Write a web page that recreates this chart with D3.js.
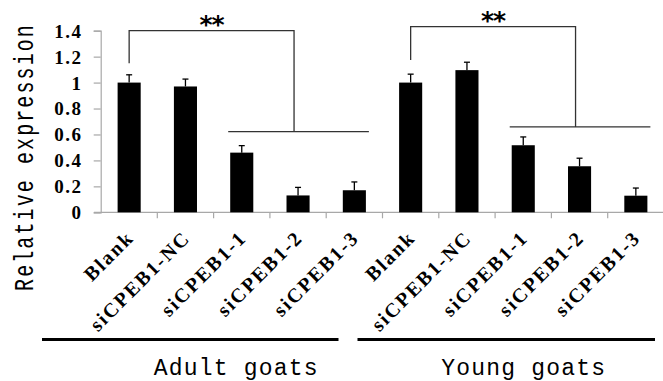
<!DOCTYPE html>
<html>
<head>
<meta charset="utf-8">
<script src="https://cdn.jsdelivr.net/npm/d3@7"></script>
<style>
  html, body { margin: 0; padding: 0; background: #fff; }
  svg { display: block; }
</style>
</head>
<body>
<svg id="chart" width="663" height="381"></svg>
<script>
// ---- data ----
const groups = ["Adult goats", "Young goats"];
const treatments = ["Blank", "siCPEB1-NC", "siCPEB1-1", "siCPEB1-2", "siCPEB1-3"];
const adultValues = [1.0, 0.97, 0.46, 0.13, 0.17];
const adultErrors = [0.06, 0.057, 0.054, 0.062, 0.064];
const youngValues = [1.0, 1.096, 0.517, 0.355, 0.128];
const youngErrors = [0.065, 0.061, 0.064, 0.062, 0.059];
const yTicks = [0, 0.2, 0.4, 0.6, 0.8, 1, 1.2, 1.4];
const sigLabel = "**";
const sigLow = [1.15, 1.175];   // bottom of left bracket leg
const sigTop = [1.4, 1.432];    // bracket top
const sigLine = [0.622, 0.658]; // horizontal line over siRNA bars

const valuesByGroup = [adultValues, youngValues];
const errorsByGroup = [adultErrors, youngErrors];
const data = [];
groups.forEach((g, gi) => treatments.forEach((t, ti) => {
  data.push({ key: g + "|" + t, group: g, label: t,
              value: valuesByGroup[gi][ti], err: errorsByGroup[gi][ti] });
}));

// ---- layout ----
const svg = d3.select("#chart");
const x = d3.scaleBand().domain(data.map(d => d.key))
  .range([101, 664]).paddingInner(0.59).paddingOuter(0.295);
const y = d3.scaleLinear().domain([0, 1.4]).range([212.3, 30.7]);
const bw = x.bandwidth();
const step = x.step();
const axisColor = "#a8a8a8";

// y axis
const yAxis = d3.axisLeft(y).tickValues(yTicks).tickSize(7).tickFormat(d3.format("~g"));
const gy = svg.append("g").attr("transform", "translate(100.7,0)").call(yAxis);
gy.select(".domain").attr("stroke", axisColor).attr("stroke-width", 1.2);
gy.selectAll(".tick line").attr("stroke", axisColor).attr("stroke-width", 1.2);
gy.selectAll(".tick text")
  .attr("x", -18.2)
  .attr("dy", "0.34em")
  .attr("fill", "#000")
  .style("font-family", "'Liberation Serif', 'Times New Roman', serif")
  .style("font-weight", "bold")
  .style("font-size", "19px")
  .style("letter-spacing", "1.5px");

// x baseline with boundary ticks
const boundaries = data.map(d => x(d.key) - step * 0.295).slice(1);
svg.append("line")
  .attr("x1", 94).attr("x2", 663).attr("y1", y(0)).attr("y2", y(0))
  .attr("stroke", axisColor).attr("stroke-width", 1.2);
svg.selectAll(".xtick").data(boundaries).join("line")
  .attr("x1", d => d).attr("x2", d => d)
  .attr("y1", y(0)).attr("y2", y(0) + 6)
  .attr("stroke", axisColor).attr("stroke-width", 1.2);

// bars
svg.selectAll(".bar").data(data).join("rect")
  .attr("x", d => x(d.key)).attr("width", bw)
  .attr("y", d => y(d.value)).attr("height", d => y(0) - y(d.value))
  .attr("fill", "#000");

// error bars
const eg = svg.append("g").attr("stroke", "#000").attr("stroke-width", 1.3);
eg.selectAll(".ev").data(data).join("line")
  .attr("x1", d => x(d.key) + bw / 2).attr("x2", d => x(d.key) + bw / 2)
  .attr("y1", d => y(d.value)).attr("y2", d => y(d.value + d.err));
eg.selectAll(".ec").data(data).join("line")
  .attr("x1", d => x(d.key) + bw / 2 - 3).attr("x2", d => x(d.key) + bw / 2 + 3)
  .attr("y1", d => y(d.value + d.err)).attr("y2", d => y(d.value + d.err));

// category labels
svg.selectAll(".cat").data(data).join("text")
  .attr("transform", d => `translate(${x(d.key) + bw / 2 + 6},239) rotate(-45)`)
  .attr("text-anchor", "end")
  .style("font-family", "'Liberation Serif', 'Times New Roman', serif")
  .style("font-weight", "bold")
  .style("font-size", "20px")
  .style("letter-spacing", "2px")
  .text(d => d.label);

// significance brackets
groups.forEach((g, gi) => {
  const k = t => g + "|" + t;
  const xl = x(k("Blank")) + bw / 2;
  const xr = x(k("siCPEB1-2")) + bw / 2 - 4;
  const hx1 = x(k("siCPEB1-1")) - 2;
  const hx2 = x(k("siCPEB1-3")) + bw + 3;
  const path = d3.path();
  path.moveTo(xl, y(sigLow[gi]));
  path.lineTo(xl, y(sigTop[gi]));
  path.lineTo(xr, y(sigTop[gi]));
  path.lineTo(xr, y(sigLine[gi]));
  path.moveTo(hx1, y(sigLine[gi]));
  path.lineTo(hx2, y(sigLine[gi]));
  svg.append("path").attr("d", path.toString())
    .attr("fill", "none").attr("stroke", "#333").attr("stroke-width", 1.3);
  svg.append("text")
    .attr("x", (xl + xr) / 2).attr("y", y(sigTop[gi]) + 2)
    .attr("text-anchor", "middle")
    .style("font-family", "'DejaVu Sans', sans-serif")
    .style("font-weight", "bold")
    .style("font-size", "25px")
    .style("letter-spacing", "-1px")
    .text(sigLabel);

  // group underline + label
  const gStart = x(k("Blank")) - step * 0.295;
  const gEnd = x(k("siCPEB1-3")) + bw + step * 0.295;
  const off = gi === 0 ? [-59, -44] : [-25, -9];
  svg.append("line")
    .attr("x1", gStart + off[0]).attr("x2", gEnd + off[1])
    .attr("y1", 339.5).attr("y2", 339.5)
    .attr("stroke", "#000").attr("stroke-width", 3);
  svg.append("text")
    .attr("x", (gStart + gEnd) / 2 - (gi === 0 ? 6 : 0) + 0.6)
    .attr("y", 375)
    .attr("text-anchor", "middle")
    .style("font-family", "'Liberation Mono', 'Courier New', monospace")
    .style("font-size", "23px")
    .style("letter-spacing", "1.2px")
    .text(g);
});

// y axis title
svg.append("text")
  .attr("transform", "translate(33,157) scale(1.4,1) rotate(-90)")
  .attr("text-anchor", "middle")
  .style("font-family", "'Liberation Mono', 'Courier New', monospace")
  .style("font-size", "20px")
  .style("letter-spacing", "2.1px")
  .text("Relative expression");
</script>
</body>
</html>
